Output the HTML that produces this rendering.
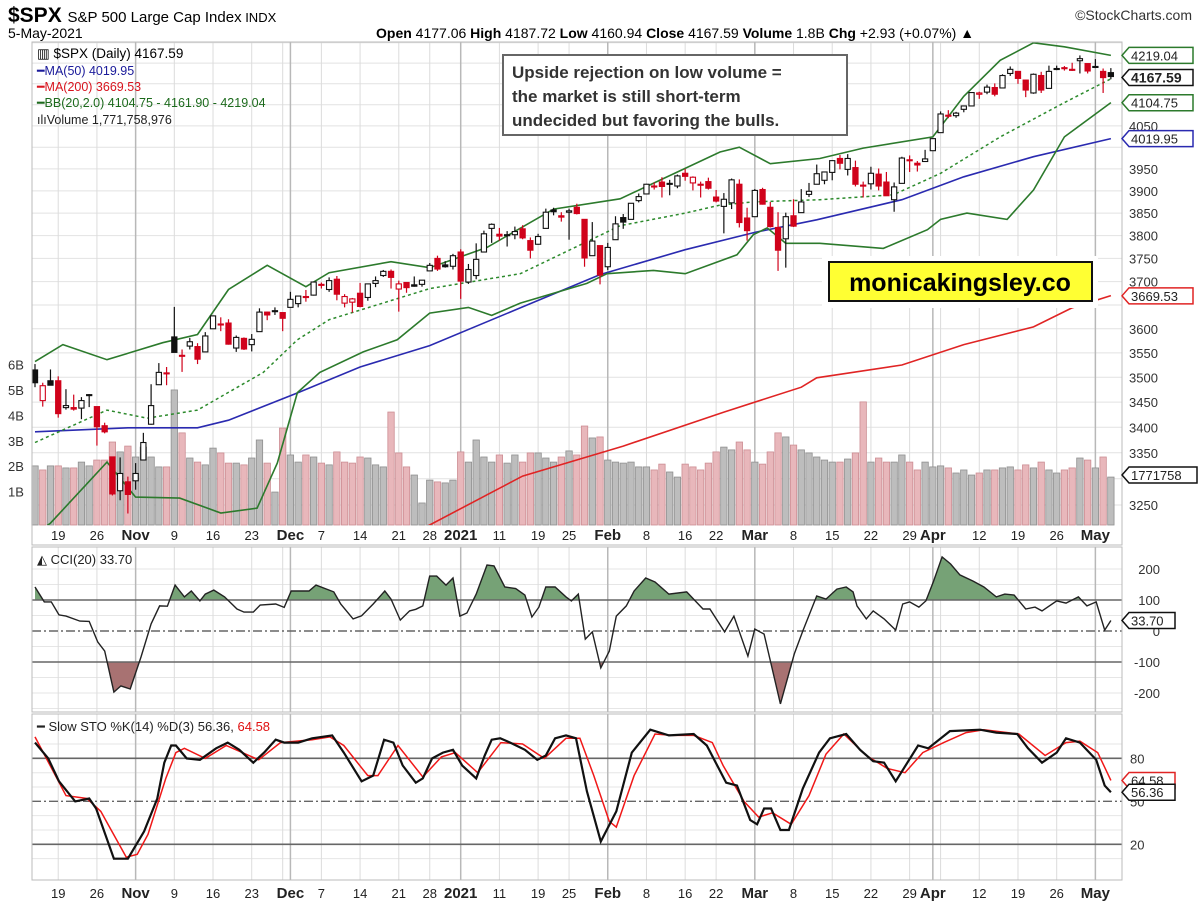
<!DOCTYPE html>
<html><head><meta charset="utf-8"><style>
body{margin:0;background:#fff;font-family:"Liberation Sans",sans-serif}
svg text{font-family:"Liberation Sans",sans-serif}
</style></head><body>
<svg id="chart" width="1200" height="910" viewBox="0 0 1200 910" xmlns="http://www.w3.org/2000/svg">
<rect x="0" y="0" width="1200" height="910" fill="#fff"/>
<g id="grid"></g>
<g id="vol"></g>
<g id="ind"></g>
<g id="candles"></g>
<g id="cci"></g>
<g id="sto"></g>
<g id="axes"></g>
<text x="8" y="22" font-size="21" font-weight="bold">$SPX <tspan font-size="15" font-weight="normal">S&amp;P 500 Large Cap Index</tspan><tspan font-size="13" font-weight="normal"> INDX</tspan></text>
<text x="8" y="38" font-size="14">5-May-2021</text>
<text x="1192" y="20" font-size="14" text-anchor="end" fill="#333">©StockCharts.com</text>
<text x="376" y="38" font-size="14"><tspan font-weight="bold">Open</tspan> 4177.06 <tspan font-weight="bold">High</tspan> 4187.72 <tspan font-weight="bold">Low</tspan> 4160.94 <tspan font-weight="bold">Close</tspan> 4167.59 <tspan font-weight="bold">Volume</tspan> 1.8B <tspan font-weight="bold">Chg</tspan> +2.93 (+0.07%) ▲</text>
<g font-size="12.5">
<text x="37" y="58" font-size="13.5">▥ $SPX (Daily) 4167.59</text>
<text x="37" y="75" fill="#1a1a9a">━MA(50) 4019.95</text>
<text x="37" y="91" fill="#d8141e">━MA(200) 3669.53</text>
<text x="37" y="107" fill="#1c6a1c">━BB(20,2.0) 4104.75 - 4161.90 - 4219.04</text>
<text x="37" y="124" fill="#222">ılıVolume 1,771,758,976</text>
</g>
<g>
<rect x="503" y="55" width="344" height="80" fill="#fff" stroke="#666" stroke-width="2"/>
<text x="512" y="78" font-size="17" font-weight="bold" fill="#333">Upside rejection on low volume =</text>
<text x="512" y="102" font-size="17" font-weight="bold" fill="#333">the market is still short-term</text>
<text x="512" y="126" font-size="17" font-weight="bold" fill="#333">undecided but favoring the bulls.</text>
</g>
<g>
<rect x="822" y="256" width="276" height="52" fill="#fff"/>
<rect x="829" y="262" width="263" height="39" fill="#ffff33" stroke="#111" stroke-width="2"/>
<text x="960" y="291" font-size="25" font-weight="bold" text-anchor="middle">monicakingsley.co</text>
</g>
<text x="37" y="564" font-size="13" fill="#222">◭ CCI(20) 33.70</text>
<text x="37" y="731" font-size="13" fill="#222">━ Slow STO %K(14) %D(3) 56.36, <tspan fill="#e01010">64.58</tspan></text>
</svg>
<script>
const opens=[3515,3453,3493,3493,3439,3439,3438,3464,3441,3403,3342,3277,3294,3296,3336,3406,3485,3508,3583,3544,3564,3563,3552,3600,3610,3612,3560,3580,3567,3594,3635,3638,3634,3645,3653,3668,3671,3694,3683,3705,3654,3656,3675,3666,3696,3713,3722,3684,3698,3693,3694,3723,3750,3736,3733,3764,3699,3713,3764,3816,3803,3802,3802,3815,3789,3781,3816,3857,3844,3852,3863,3836,3756,3778,3732,3791,3840,3836,3878,3893,3910,3920,3917,3911,3940,3918,3915,3921,3886,3865,3873,3915,3839,3842,3903,3863,3818,3793,3844,3851,3892,3915,3924,3942,3974,3949,3953,3913,3916,3938,3920,3880,3917,3969,3963,3967,3992,4034,4075,4074,4089,4097,4125,4130,4141,4140,4175,4180,4159,4128,4170,4139,4185,4189,4185,4206,4199,4191,4180,4177];
const highs=[3527,3489,3516,3502,3476,3465,3460,3466,3441,3409,3342,3341,3304,3330,3389,3486,3529,3521,3646,3557,3581,3570,3593,3628,3624,3620,3586,3582,3589,3643,3636,3645,3634,3678,3670,3682,3699,3698,3709,3712,3673,3665,3697,3695,3711,3725,3726,3702,3698,3711,3703,3740,3756,3744,3760,3770,3738,3783,3811,3827,3817,3810,3820,3823,3796,3804,3860,3862,3852,3860,3871,3836,3830,3778,3784,3843,3848,3872,3894,3916,3919,3931,3925,3937,3950,3933,3921,3930,3902,3895,3928,3926,3862,3904,3907,3875,3852,3851,3881,3904,3918,3960,3944,3970,3982,3984,3969,3921,3955,3951,3943,3919,3978,3981,3968,3994,4021,4084,4087,4083,4098,4129,4131,4148,4151,4173,4192,4181,4160,4175,4179,4194,4194,4193,4201,4219,4199,4210,4187,4188];
const lows=[3480,3441,3484,3419,3435,3433,3416,3440,3364,3388,3268,3259,3234,3279,3336,3405,3485,3484,3551,3511,3557,3527,3552,3600,3595,3567,3552,3556,3553,3594,3618,3629,3595,3645,3645,3657,3670,3685,3678,3660,3645,3634,3645,3659,3688,3710,3685,3636,3676,3689,3689,3723,3723,3730,3726,3663,3695,3705,3764,3784,3789,3776,3792,3792,3750,3780,3816,3845,3831,3791,3847,3732,3756,3694,3725,3791,3815,3836,3874,3893,3903,3885,3890,3906,3923,3901,3885,3903,3874,3805,3859,3818,3789,3842,3869,3818,3723,3730,3819,3851,3886,3915,3915,3924,3949,3935,3910,3885,3903,3901,3889,3853,3917,3943,3944,3967,3992,4034,4068,4069,4082,4096,4114,4125,4120,4140,4169,4150,4118,4126,4128,4139,4183,4182,4181,4175,4175,4188,4128,4161];
const closes=[3489,3483,3484,3427,3443,3436,3453,3465,3401,3391,3271,3310,3270,3310,3370,3443,3510,3509,3551,3545,3573,3537,3585,3627,3610,3568,3582,3558,3578,3635,3629,3638,3622,3662,3669,3666,3699,3692,3702,3673,3668,3663,3647,3695,3702,3722,3709,3695,3687,3690,3703,3735,3727,3732,3756,3701,3726,3748,3804,3825,3799,3801,3809,3795,3768,3798,3852,3853,3841,3855,3849,3751,3788,3714,3774,3826,3830,3872,3887,3915,3911,3910,3916,3934,3933,3931,3913,3906,3877,3881,3925,3829,3811,3901,3870,3820,3768,3842,3821,3875,3899,3939,3943,3969,3963,3974,3915,3913,3940,3911,3889,3909,3975,3971,3959,3973,4020,4078,4074,4080,4097,4129,4128,4142,4125,4170,4185,4163,4135,4173,4135,4180,4187,4186.7,4183,4211,4181,4192,4165,4167.6];
const volumes=[2.13,1.97,2.13,2.13,2.05,2.05,2.28,2.13,2.36,2.36,3.07,2.68,2.91,2.48,2.87,2.48,2.09,2.09,5.12,3.43,2.44,2.28,2.17,2.83,2.64,2.24,2.24,2.17,2.44,3.15,2.24,1.10,3.62,2.56,2.28,2.56,2.48,2.24,2.17,2.68,2.28,2.24,2.48,2.44,2.17,2.09,4.25,2.64,2.09,1.77,0.67,1.57,1.50,1.46,1.57,2.68,2.28,3.15,2.48,2.28,2.56,2.24,2.56,2.28,2.64,2.64,2.44,2.28,2.48,2.72,2.56,3.70,3.23,3.27,2.36,2.28,2.24,2.28,2.09,2.09,1.97,2.20,1.89,1.69,2.20,2.09,1.97,2.24,2.68,2.87,2.76,3.07,2.76,2.28,2.20,2.68,3.43,3.27,2.95,2.76,2.64,2.48,2.36,2.28,2.28,2.40,2.64,4.65,2.28,2.44,2.28,2.28,2.56,2.28,1.97,2.28,2.09,2.13,2.05,1.85,1.97,1.77,1.85,1.97,1.97,2.05,2.09,1.97,2.17,2.05,2.28,1.97,1.85,1.97,2.05,2.44,2.36,2.05,2.48,1.69];
const ma50Idx=[0,12,21,25,34,42,51,63,73,84,93,101,112,120,129,139];
const ma50Val=[3391,3399,3399,3414,3469,3521,3565,3646,3715,3769,3807,3835,3880,3932,3978,4020];
const ma200Idx=[50,63,76,89,99,101,112,120,129,134,139];
const ma200Val=[3205,3305,3363,3430,3480,3499,3525,3567,3604,3644,3670];
const bbUpIdx=[0,3.6,9.3,16.5,21,25,30,35,38,46,51,58.4,67,75.6,80,88.5,91,95,101.4,107,116,120,124.7,129,133,139];
const bbUpVal=[3532,3567,3536,3571,3588,3683,3735,3689,3719,3743,3730,3774,3859,3882,3918,3989,4000,3962,3974,3998,4024,4120,4207,4250,4240,4219];
const bbLoIdx=[0,2,9.3,13,18.7,24,28.7,31.3,33.9,36.8,42.4,46.8,51,56,59,62.7,71.3,73.9,79.9,84,90.7,92.8,94.6,97,101.4,109.6,115.3,117,120.4,125.6,129,133,139];
const bbLoVal=[3195,3216,3332,3265,3263,3235,3244,3330,3469,3510,3552,3577,3633,3645,3628,3654,3696,3717,3724,3717,3758,3802,3817,3783,3783,3772,3813,3836,3850,3836,3902,4024,4105];
const bbMidIdx=[0,9.3,14.5,21,29.5,33.9,38,51,62.7,75.6,84,88.5,92.8,101.4,110.9,117,124.7,133,139];
const bbMidVal=[3370,3434,3418,3434,3510,3577,3619,3685,3717,3822,3850,3868,3875,3880,3891,3940,4024,4105,4162];
const cciIdx=[0,1.2,2.1,3.1,4,5.8,7,8.1,9,10.2,11.1,12.3,13.7,15,16.1,17.1,18.1,19.3,20.2,21.3,22,23.1,24.5,26.1,27,28.2,29.1,31.1,32.2,33.1,35.4,36.3,38.6,39.5,41.1,42.2,43.7,45.2,46,47.2,48.4,49.2,50.1,51,51.9,53.1,54,54.9,55.8,57,58.4,59.3,60.7,62.1,63.3,64.2,65.1,66,67.2,68.6,69.3,70.2,71.1,72,73.1,74.2,75.1,76.4,77.4,78.9,80.1,81.9,84.2,86.3,87.2,89.1,90.3,92.1,93,94.2,96.3,98.1,99.2,101,102.2,103.6,104.8,105.7,106.2,107.4,108.3,109.7,111.2,112.1,113,114.2,115.1,116.1,117.2,118.3,119.5,121.2,122.6,124.2,125.3,126.5,128,129.2,130.1,132,133.2,134.8,135.9,137.1,138.2,139];
const cciVal=[142,94,94,52,48,32,31,-35,-65,-197,-177,-187,-84,23,81,80,148,110,129,97,119,132,110,71,61,61,84,87,76,129,129,148,126,87,39,49,87,129,103,35,65,70,81,177,177,148,171,48,58,119,213,210,142,137,116,45,77,142,142,110,97,119,-26,-3,-119,-65,48,81,129,171,158,119,126,71,71,-3,48,-81,6,-10,-235,-74,0,113,103,135,142,126,81,39,65,39,3,87,94,77,97,161,239,216,181,161,142,110,119,116,71,77,65,97,90,110,81,94,3,34];
const kIdx=[0,1.7,3.1,5.2,7,7.9,10.2,12,14.1,15.8,16.7,17.6,18.2,19.6,21.3,23.4,24.9,26.4,28.2,29.6,31.1,32.2,34,35.8,38.4,39.9,42.2,43.7,45.1,46.3,47.5,49.2,50.1,51.3,52.7,54,55.2,57,58.1,59,60.1,61.4,63.3,64.9,66,67.2,68.6,69.9,71.3,73.1,75.1,77.1,79.5,81.9,85.1,86.8,89.3,90.7,92.4,93.3,94.2,95.1,96.3,97.4,99.2,101.3,102.7,104.8,106.6,108.3,109.7,111.2,114.1,115.4,118.2,122.1,124.2,126.9,128.3,130.1,132,133.2,135,137.1,138.2,139];
const kVal=[91,80,64,50,52,45,10,10,29,52,77,89,89,80,79,87,91,86,77,84,93,91,91,94,96,84,64,68,93,91,75,63,66,80,84,86,75,66,82,93,94,91,86,79,82,94,96,94,57,22,43,84,100,96,97,89,63,61,37,34,45,45,30,30,59,84,94,97,86,78,77,64,89,87,99,100,98,97,87,77,84,94,91,79,61,56.4];
const dIdx=[0,4,6.7,8.5,11.8,13.2,14.6,16.9,18.2,19.3,22,24.7,28.9,31.7,35.8,38.1,39.9,43,44.3,46.9,50.1,52.5,54.3,57.2,60.2,63,65.8,68.6,70.4,72.2,74.2,75.1,77.4,80.1,82.4,85.1,87.5,88.9,91.6,93.5,95.3,97.7,100,102.2,104.5,107.4,110.1,112.4,114.7,117.4,120.3,122.6,127.1,130.5,133.2,135,137.3,139];
const dVal=[95,54,52,43,11,13,27,66,84,87,80,89,79,91,93,95,89,68,68,89,67,81,84,70,91,90,80,94,94,68,36,32,68,97,96,96,91,75,50,39,42,34,54,83,97,82,73,70,84,91,98,100,97,82,91,92,84,64.6];
const xTickIdx=[3,8,13,18,23,28,33,37,42,47,51,55,60,65,69,74,79,84,88,93,98,103,108,113,116,122,127,132,137];
const xTickLabels=["19","26","Nov","9","16","23","Dec","7","14","21","28","2021","11","19","25","Feb","8","16","22","Mar","8","15","22","29","Apr","12","19","26","May"];
const monthIdx=[13,33,55,74,93,116,137];
const weekIdx=[3,8,18,23,28,32,37,42,47,51,60,65,69,79,84,88,98,103,108,113,117,122,127,132];
const priceTicks=[3250,3300,3350,3400,3450,3500,3550,3600,3650,3700,3750,3800,3850,3900,3950,4000,4050,4100,4150,4200,4250];
const priceTickShown=[3250,3350,3400,3450,3500,3550,3600,3700,3750,3800,3850,3900,3950,4050];
const volTicks=[1,2,3,4,5,6];
const cciTicks=[200,100,0,-100,-200];
const stoTicks=[80,50,20];

const NS="http://www.w3.org/2000/svg";
const X0=35,DX=7.74,L=32,R=1122;
const xS=i=>X0+i*DX;
const yP=p=>505-1723*(Math.log(p)-Math.log(3250));
const yV=v=>520-v*25.4;
const yC=v=>631-v*0.31;
const yS=v=>873-v*1.433;
function mk(tag,attrs,parent){const e=document.createElementNS(NS,tag);for(const k in attrs)e.setAttribute(k,attrs[k]);parent.appendChild(e);return e;}
const G=id=>document.getElementById(id);
const grid=G('grid'),vol=G('vol'),ind=G('ind'),cnd=G('candles'),cci=G('cci'),sto=G('sto'),axes=G('axes');

[[42,545],[547,712],[714,880]].forEach((p,k)=>{
  const r=mk('rect',{x:L,y:p[0],width:R-L,height:p[1]-p[0],fill:'none',stroke:'#bbb','stroke-width':1},axes);
  
  
});
priceTicks.forEach(p=>{const l=mk('line',{x1:L,x2:R,y1:yP(p),y2:yP(p),stroke:'#e2e2e2'},grid);});
[-250,-200,-150,-50,50,150,200].forEach(v=>{const l=mk('line',{x1:L,x2:R,y1:yC(v),y2:yC(v),stroke:'#e6e6e6'},grid);});
[10,30,40,60,70,90].forEach(v=>{const l=mk('line',{x1:L,x2:R,y1:yS(v),y2:yS(v),stroke:'#e6e6e6'},grid);});
weekIdx.forEach(i=>{[[42,525],[547,712],[714,880]].forEach(p=>{const l=mk('line',{x1:xS(i),x2:xS(i),y1:p[0],y2:p[1],stroke:'#dcdcdc'},grid);});});
monthIdx.forEach(i=>{[[42,525],[547,712],[714,880]].forEach(p=>{const l=mk('line',{x1:xS(i),x2:xS(i),y1:p[0],y2:p[1],stroke:'#b8b8b8','stroke-width':1.5},grid);});});

volumes.forEach((v,i)=>{
  const down=i>0&&closes[i]<closes[i-1];
  const r=mk('rect',{x:xS(i)-3.2,y:yV(v),width:6.4,height:Math.max(0,525-yV(v)),fill:down?'#e8b7bb':'#bdbdbd',stroke:down?'#cc8d93':'#8f8f8f','stroke-width':0.8},vol);
  
  
});

function line(idx,val,ys,attrs,parent,name){
  const d=idx.map((i,k)=>(k?'L':'M')+xS(i).toFixed(1)+','+ys(val[k]).toFixed(1)).join('');
  const p=mk('path',Object.assign({d:d,fill:'none'},attrs),parent);
  
  
  return p;
}
const cp=mk('clipPath',{id:'pclip'},ind);
mk('rect',{x:L,y:42,width:R-L,height:483},cp);
const og=mk('g',{'clip-path':'url(#pclip)'},ind);
line(ma200Idx,ma200Val,yP,{stroke:'#e02424','stroke-width':1.6},og,'ma200-line');
line(ma50Idx,ma50Val,yP,{stroke:'#2a2ab0','stroke-width':1.6},og,'ma50-line');
line(bbUpIdx,bbUpVal,yP,{stroke:'#2c7a2c','stroke-width':1.6},og,'bb-upper-line');
line(bbLoIdx,bbLoVal,yP,{stroke:'#2c7a2c','stroke-width':1.6},og,'bb-lower-line');
line(bbMidIdx,bbMidVal,yP,{stroke:'#2c8a2c','stroke-width':1.5,'stroke-dasharray':'3,3'},og,'bb-middle-line');

closes.forEach((c,i)=>{
  const o=opens[i],h=highs[i],l=lows[i];
  const down=i>0&&c<closes[i-1];
  const col=down?'#d0021b':'#111';
  const g=mk('g',{},cnd);
  
  
  const x=xS(i);
  mk('line',{x1:x,x2:x,y1:yP(h),y2:yP(l),stroke:col,'stroke-width':1.2},g);
  const top=yP(Math.max(o,c)),bot=yP(Math.min(o,c));
  const filled=c<o;
  mk('rect',{x:x-2.6,y:top,width:5.2,height:Math.max(1,bot-top),fill:filled?col:'#fff',stroke:col,'stroke-width':1.1},g);
});

const cg=cci;
mk('rect',{x:L,y:547,width:R-L,height:yC(100)-547},mk('clipPath',{id:'cup'},cg));
mk('rect',{x:L,y:yC(-100),width:R-L,height:712-yC(-100)},mk('clipPath',{id:'cdn'},cg));
const cPts=cciIdx.map((i,k)=>xS(i).toFixed(1)+','+yC(cciVal[k]).toFixed(1)).join(' ');
const x0c=xS(cciIdx[0]),x1c=xS(cciIdx[cciIdx.length-1]);
const fu=mk('polygon',{points:x0c+','+yC(100)+' '+cPts+' '+x1c+','+yC(100),fill:'#76a276',stroke:'none','clip-path':'url(#cup)'},cg);

const fd=mk('polygon',{points:x0c+','+yC(-100)+' '+cPts+' '+x1c+','+yC(-100),fill:'#a87272',stroke:'none','clip-path':'url(#cdn)'},cg);

[100,-100].forEach(v=>{const l=mk('line',{x1:L,x2:R,y1:yC(v),y2:yC(v),stroke:'#666','stroke-width':1.6},cg);});
{const l=mk('line',{x1:L,x2:R,y1:yC(0),y2:yC(0),stroke:'#666','stroke-width':1.4,'stroke-dasharray':'9,3,2,3'},cg);}
line(cciIdx,cciVal,yC,{stroke:'#222','stroke-width':1.4},cg,'cci-line');

[80,20].forEach(v=>{const l=mk('line',{x1:L,x2:R,y1:yS(v),y2:yS(v),stroke:'#666','stroke-width':1.6},sto);});
{const l=mk('line',{x1:L,x2:R,y1:yS(50),y2:yS(50),stroke:'#666','stroke-width':1.4,'stroke-dasharray':'9,3,2,3'},sto);}
line(dIdx,dVal,yS,{stroke:'#f01818','stroke-width':1.5},sto,'sto-d-line');
line(kIdx,kVal,yS,{stroke:'#111','stroke-width':2.2},sto,'sto-k-line');

function txt(x,y,s,attrs,name){const t=mk('text',Object.assign({x:x,y:y,'font-size':13,fill:'#333'},attrs||{}),axes);t.textContent=s;return t;}
priceTickShown.forEach(p=>txt(1129,yP(p)+5,String(p),{},'price-tick-label'));
volTicks.forEach(v=>txt(8,yV(v)+2,v+'B',{},'volume-tick-label'));
cciTicks.forEach(v=>txt(1160,yC(v)+5,String(v),{'text-anchor':'end'},'cci-tick-label'));
stoTicks.forEach(v=>txt(1130,yS(v)+5,String(v),{},'sto-tick-label'));
xTickIdx.forEach((i,k)=>{
  const bold=/[A-Za-z]|2021/.test(xTickLabels[k]);
  txt(xS(i),540,xTickLabels[k],{'text-anchor':'middle','font-weight':bold?'bold':'normal','font-size':bold?15:13,fill:'#222'},'x-tick-label');
  txt(xS(i),898,xTickLabels[k],{'text-anchor':'middle','font-weight':bold?'bold':'normal','font-size':bold?15:13,fill:'#222'},'x-tick-label-bottom');
});
function tag(y,s,col,bold,name,w){
  w=w||64;
  const g=mk('g',{},axes);
  
  
  mk('path',{d:`M1122,${y} L1129,${y-8} L${1129+w},${y-8} L${1129+w},${y+8} L1129,${y+8} Z`,fill:'#fff',stroke:col,'stroke-width':1.5},g);
  const t=mk('text',{x:1131,y:y+5,'font-size':bold?14:13,'font-weight':bold?'bold':'normal',fill:'#222'},g);t.textContent=s;
}
tag(yP(4219.04),'4219.04','#2c7a2c',false,'bb-upper-tag');
tag(yP(4167.59)+1,'4167.59','#111',true,'price-tag');
tag(yP(4104.75),'4104.75','#2c7a2c',false,'bb-lower-tag');
tag(yP(4019.95),'4019.95','#2a2ab0',false,'ma50-tag');
tag(yP(3669.53),'3669.53','#e02424',false,'ma200-tag');
tag(yV(1.77),'1771758','#111',false,'volume-tag',68);
tag(yC(33.7),'33.70','#111',false,'cci-tag',46);
tag(yS(64.58),'64.58','#e02424',false,'sto-d-tag',46);
tag(yS(56.36),'56.36','#111',false,'sto-k-tag',46);
</script>
</body></html>
